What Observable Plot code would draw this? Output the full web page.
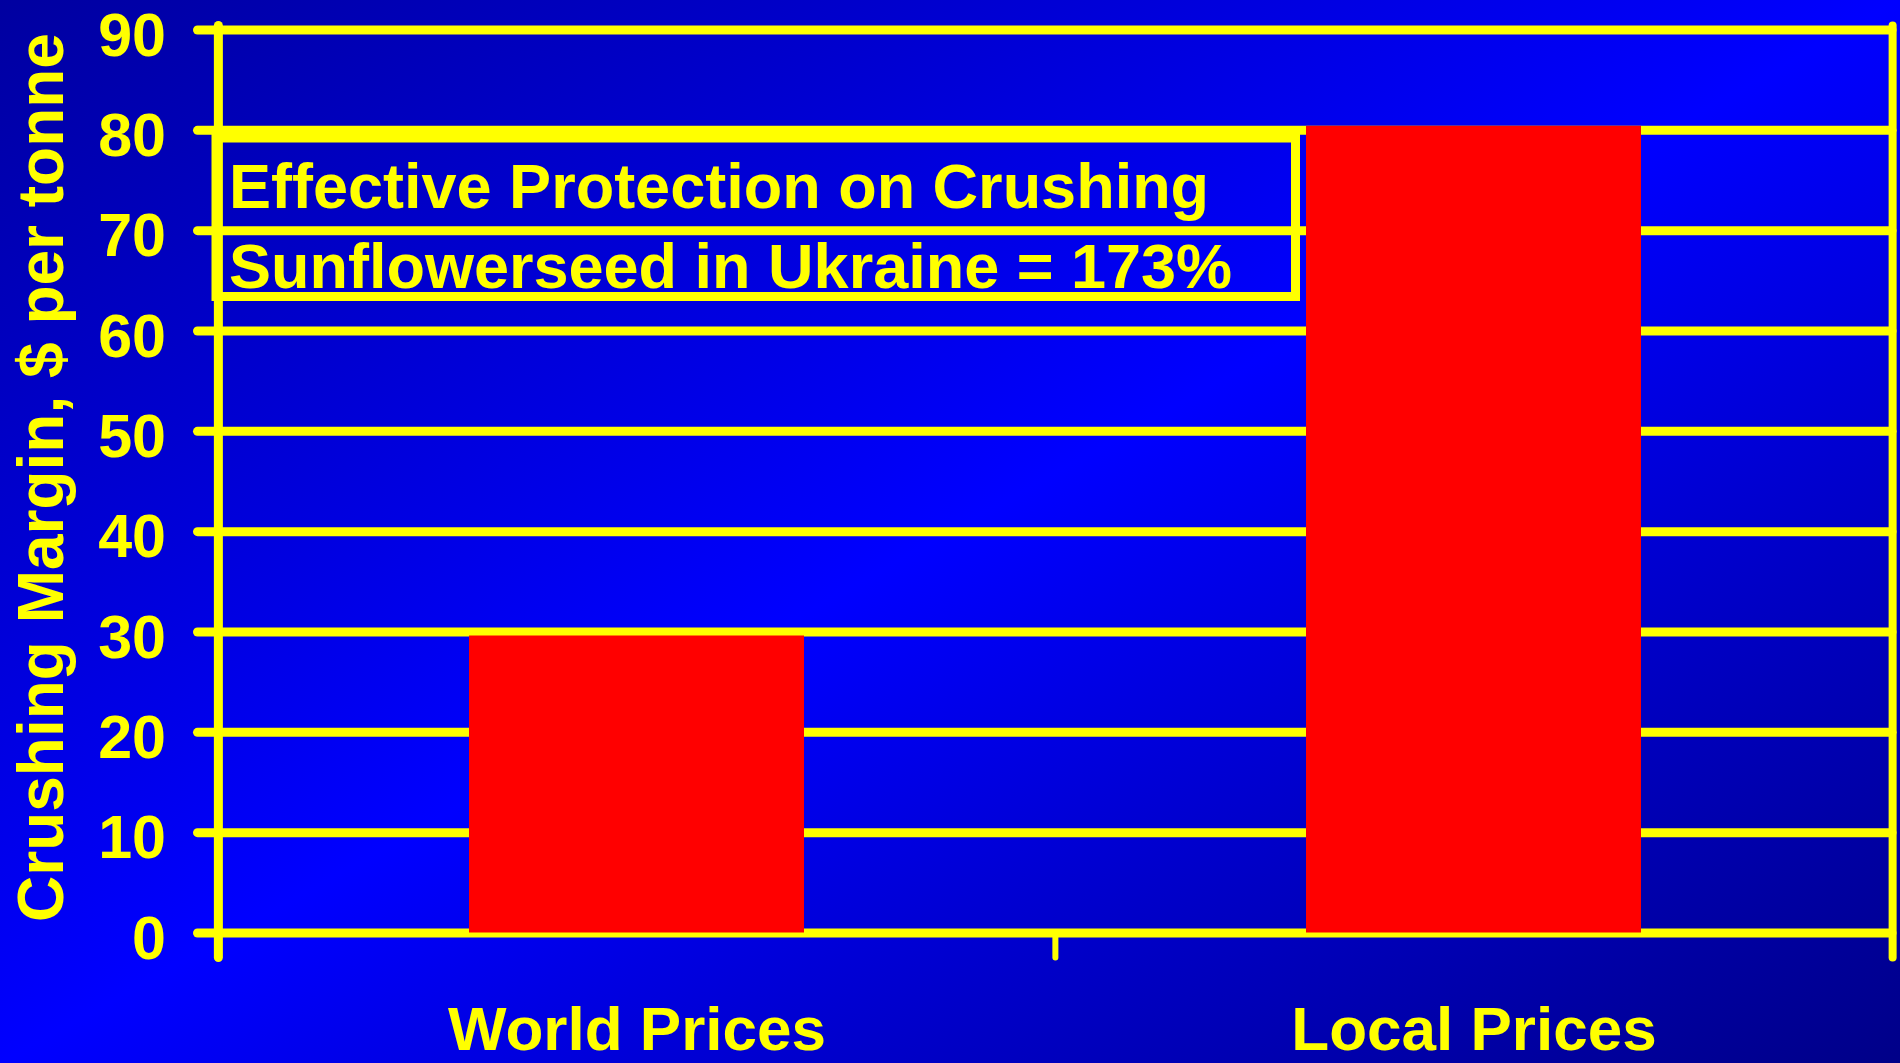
<!DOCTYPE html>
<html>
<head>
<meta charset="utf-8">
<script src="https://cdn.jsdelivr.net/npm/d3@7"></script>
<script src="https://cdn.jsdelivr.net/npm/@observablehq/plot@0.6"></script>
<style>
  html, body { margin: 0; padding: 0; overflow: hidden; }
  body {
    width: 1900px; height: 1063px;
    background: linear-gradient(to bottom right, #0000a0 0%, #0000ff 50%, #000088 100%);
  }
  #chart svg { display: block; }
</style>
</head>
<body>
<div id="chart"></div>
<script>
// ---- data ----
const categories = ["World Prices", "Local Prices"];
const crushingMargins = [29.6, 80.4];
const yTicks = [0, 10, 20, 30, 40, 50, 60, 70, 80, 90];
const yTitle = "Crushing Margin, $ per tonne";
const noteLines = ["Effective Protection on Crushing", "Sunflowerseed in Ukraine = 173%"];

const data = categories.map((c, i) => ({category: c, value: crushingMargins[i]}));

// ---- layout / style ----
const W = 1900, H = 1063;
const mL = 217.5, mR = 8, mT = 29.5, mB = 130.5;
const YEL = "#ffff00";
const FONT = "'Liberation Sans', Arial, Helvetica, sans-serif";
const padInner = 0.6, padOuter = 0.3;

const xOpts = {type: "band", domain: categories, range: [mL, W - mR], paddingInner: padInner, paddingOuter: padOuter};
const xs = Plot.scale({x: xOpts});
const step = xs.step ?? (xs.bandwidth / (1 - padInner));

const chart = Plot.plot({
  width: W,
  height: H,
  marginLeft: mL,
  marginRight: mR,
  marginTop: mT,
  marginBottom: mB,
  style: {background: "transparent", fontFamily: FONT, overflow: "visible"},
  x: {...xOpts, axis: null},
  y: {domain: [0, 90], axis: null},
  marks: [
    // horizontal grid lines with left stubs
    Plot.ruleY(yTicks, {y: d => d, stroke: YEL, strokeWidth: 9, strokeLinecap: "round", insetLeft: -20}),
    // bars
    Plot.barY(data, {x: "category", y: "value", fill: "#ff0000"}),
    // left vertical axis line
    Plot.ruleX([categories[0]], {x: d => d, dx: -step / 2, stroke: YEL, strokeWidth: 9, strokeLinecap: "round", insetTop: -4, insetBottom: -25}),
    // right vertical line
    Plot.ruleX([categories[1]], {x: d => d, dx: step / 2, stroke: YEL, strokeWidth: 8, strokeLinecap: "round", insetTop: -4, insetBottom: -25}),
    // middle category boundary tick
    Plot.ruleX([categories[1]], {x: d => d, dx: -step / 2, y1: 0, y2: 0, insetBottom: -25, stroke: YEL, strokeWidth: 6, strokeLinecap: "round"}),
    // y tick labels
    Plot.axisY({ticks: yTicks, tickSize: 0, tickPadding: 52, fontSize: 61, fontWeight: "bold", color: YEL, fill: YEL, dy: 6, label: null}),
    // x category labels
    Plot.axisX({tickSize: 0, tickPadding: 73, fontSize: 62, fontWeight: "bold", color: YEL, fill: YEL, label: null}),
    // y axis title
    Plot.text([yTitle], {text: d => d, frameAnchor: "left", dx: -175, dy: -4, rotate: -90, textAnchor: "middle", fontSize: 64, fontWeight: "bold", fill: YEL}),
    // annotation box
    Plot.frame({stroke: YEL, strokeWidth: 9, insetLeft: -2, insetTop: 108, insetRight: 597, insetBottom: 636.5}),
    Plot.text([noteLines.join("\n")], {text: d => d, frameAnchor: "top-left", dx: 11, dy: 121, textAnchor: "start", lineAnchor: "top", lineHeight: 1.27, fontSize: 63, fontWeight: "bold", fill: YEL})
  ]
});

document.getElementById("chart").appendChild(chart);
</script>
</body>
</html>
